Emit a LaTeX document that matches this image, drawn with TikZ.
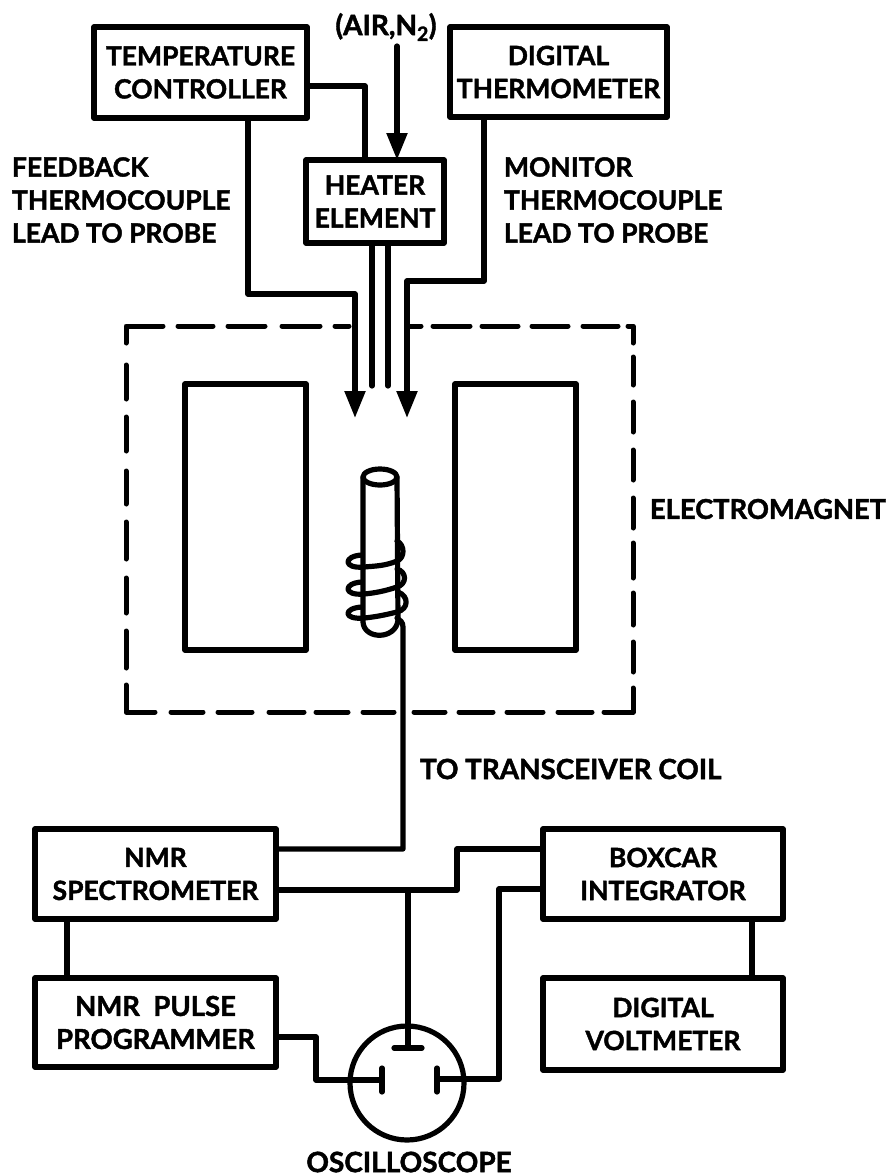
\documentclass[tikz,border=0pt]{standalone}
\usepackage{fontspec}
\setmainfont{Lato}[BoldFont=* Bold,BoldFeatures={FakeBold=1.6}]
\usetikzlibrary{arrows.meta}
\tikzset{
  fs/.style={font=\fontsize{#1}{33}\selectfont\bfseries},
  every node/.style={fs=26.5,align=center,inner sep=0pt,outer sep=0pt},
  boxn/.style={draw,line width=5.2pt,line join=round},
  wire/.style={line width=5.2pt,line join=round,line cap=round},
  arr/.style={wire,-{Triangle[length=27pt,width=20pt]}},
  dashn/.style={line width=5pt,line cap=round,line join=round}
}
\begin{document}
\begin{tikzpicture}[x=1pt,y=-1pt]
\useasboundingbox (0,0) rectangle (888,1176);
% boxes
\node[boxn,minimum width=213pt,minimum height=91pt] (tc) at (200.5,72.5) {TEMPERATURE\\CONTROLLER};
\node[boxn,minimum width=217pt,minimum height=90pt] (dt) at (558.5,72) {DIGITAL\\THERMOMETER};
\node[boxn,minimum width=138pt,minimum height=83pt] (he) at (375,201.5) {HEATER\\ELEMENT};
\node[boxn,minimum width=241pt,minimum height=90pt] (nmr) at (155.5,874) {NMR\\SPECTROMETER};
\node[boxn,fs=27.5,minimum width=241pt,minimum height=89pt] (pp) at (155.5,1022.5) {NMR~ PULSE\\PROGRAMMER};
\node[boxn,minimum width=240pt,minimum height=90pt] (bi) at (663,874) {BOXCAR\\INTEGRATOR};
\node[boxn,minimum width=240pt,minimum height=92pt] (dv) at (663,1024) {DIGITAL\\VOLTMETER};
\node[boxn,minimum width=121pt,minimum height=266pt] (pl) at (245.5,517) {};
\node[boxn,minimum width=121pt,minimum height=266pt] (pr) at (515.5,517) {};
\node[draw,circle,line width=5.2pt,minimum size=114pt] (osc) at (407,1083) {};
% labels
\node[fs=28] (air) at (386,27) {(AIR,N$_{\mathbf 2}$)};
\node[align=left,anchor=west] (fb) at (12,200) {FEEDBACK\\THERMOCOUPLE\\LEAD TO PROBE};
\node[align=left,anchor=west] (mon) at (504,200) {MONITOR\\THERMOCOUPLE\\LEAD TO PROBE};
\node[fs=27.3,anchor=west] (em) at (650,509) {ELECTROMAGNET};
\node[fs=27.8,anchor=west] (tt) at (420,769) {TO TRANSCEIVER COIL};
\node[fs=28,anchor=center] (ol) at (409,1162) {OSCILLOSCOPE};
% free ends
\coordinate (a1) at (397,46);
\coordinate (f1) at (355,418);
\coordinate (m1) at (407,418);
\coordinate (h1) at (372,386);
\coordinate (h2) at (388,386);
% connectors
\draw[wire] (tc.east |- 0,86) -| (he.north -| 365,0);
\draw[arr] (a1) -- (a1 |- he.north);
\draw[arr] (248,0 |- tc.south) |- (355,294) -- (f1);
\draw[arr] (484,0 |- dt.south) |- (407,281) -- (m1);
\draw[wire] (h1 |- he.south) -- (h1);
\draw[wire] (h2 |- he.south) -- (h2);
\draw[wire] (nmr.east |- 0,849) -| (403,627) .. controls (403,622) and (400,620) .. (397,618);
\draw[wire] (nmr.east |- 0,890) -| (457,849) -- (bi.west |- 0,849);
\draw[wire] (bi.west |- 0,889) -| (499,1079) -- (437,1079);
\draw[wire] (408,890) -- (408,1048);
\draw[wire] (pp.east |- 0,1037) -| (316,1080) -- (382,1080);
\draw[wire] (394,1048) -- (422,1048);
\draw[wire] (382,1068) -- (382,1092);
\draw[wire] (437,1068) -- (437,1092);
\draw[wire] (67,0 |- nmr.south) -- (67,0 |- pp.north);
\draw[wire] (752,0 |- bi.south) -- (752,0 |- dv.north);
% magnet: top
\draw[dashn] (126,343) -- (126,326) -- (163,326);
\foreach \a/\b in {178/213,228/265,282/320,335/349,407/421,433/470,482/518,532/568,583/618}
  \draw[dashn] (\a,326) -- (\b,326);
\draw[dashn] (628,326) -- (633,326) -- (633,343);
% magnet: left
\foreach \a/\b in {365/399,417/451,471/504,522/559,578/613,631/668}
  \draw[dashn] (126,\a) -- (126,\b);
\draw[dashn] (126,685) -- (126,712) -- (155,712);
% magnet: right
\foreach \a/\b in {357/385,402/432,450/480,498/528,543/578,593/625,642/672}
  \draw[dashn] (633,\a) -- (633,\b);
\draw[dashn] (633,688) -- (633,712) -- (604,712);
% magnet: bottom
\foreach \a/\b in {171/203,218/252,269/304,316/348,363/394,414/445,459/493,507/543,558/592}
  \draw[dashn] (\a,712) -- (\b,712);
% probe
\draw[wire] (380,477) ellipse (17pt and 8pt);
\draw[wire] (363,477) -- (363,622) .. controls (364,640) and (396,640) .. (398,620) -- (397,477);
% coil
\draw[wire] (397,541) .. controls (405,545) and (405,558) .. (397,561) .. controls (385,566) and (375,566) .. (364,567) .. controls (343,569) and (343,556) .. (362,555);
\draw[wire] (397,569) .. controls (407,572) and (407,584) .. (397,587) .. controls (385,591) and (375,593) .. (364,594) .. controls (343,596) and (343,583) .. (362,582);
\draw[wire] (398,592) .. controls (409,596) and (409,609) .. (397,612) .. controls (385,615) and (375,617) .. (364,618) .. controls (343,620) and (343,608) .. (362,607);
\end{tikzpicture}
\end{document}
